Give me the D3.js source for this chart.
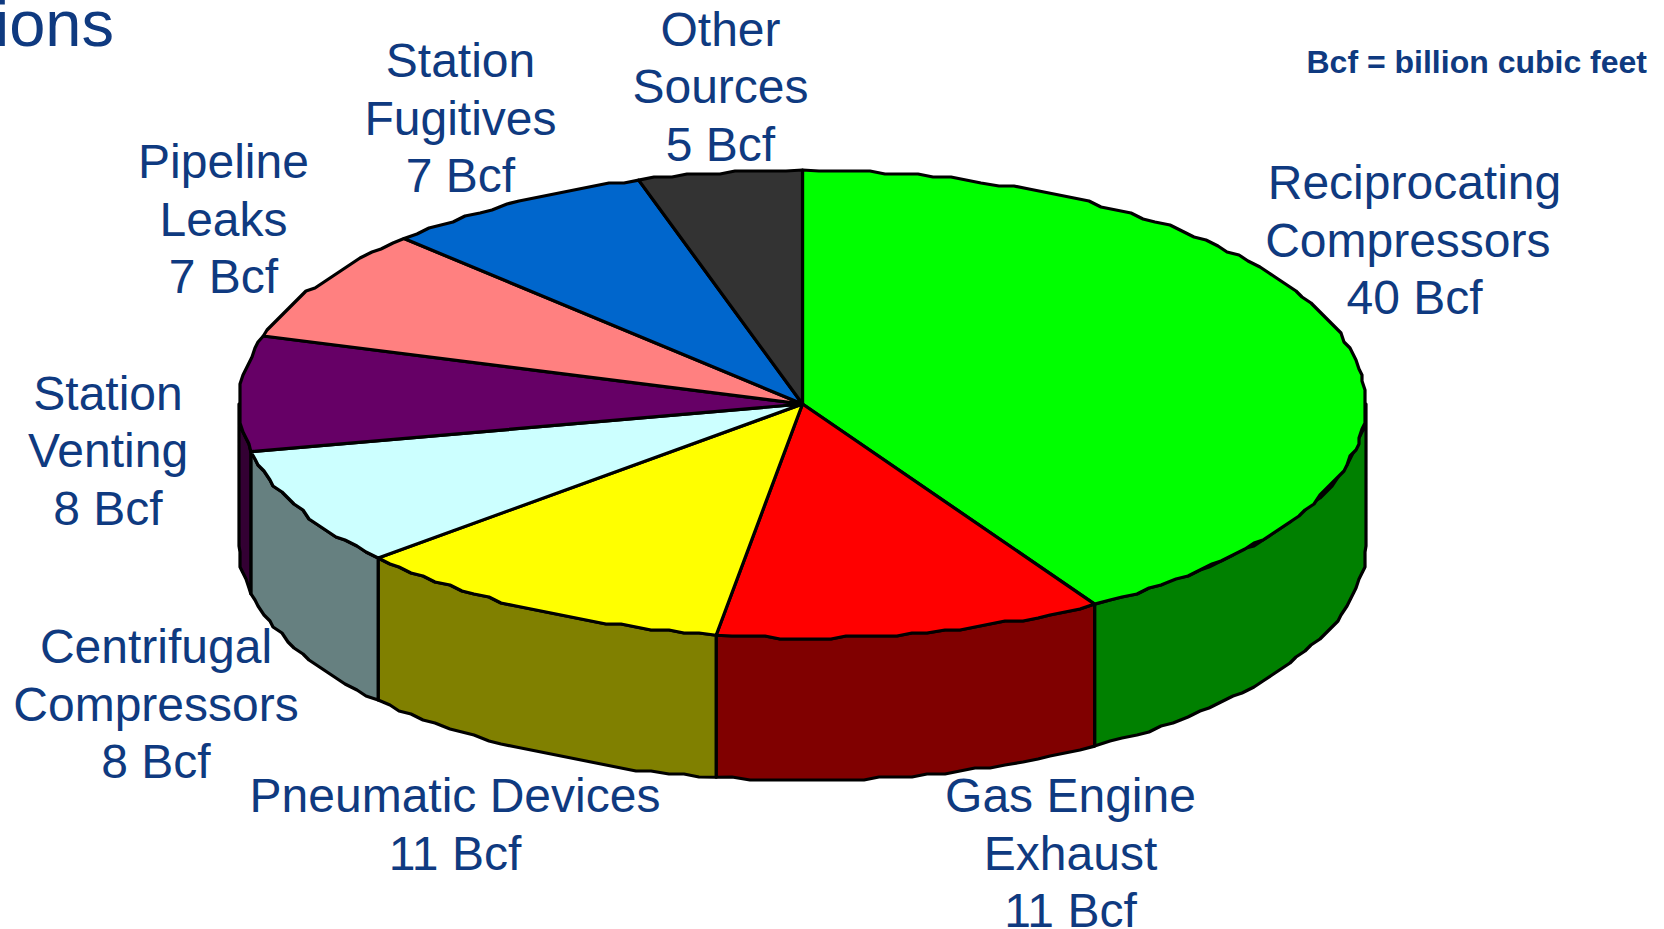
<!DOCTYPE html>
<html><head><meta charset="utf-8">
<script src="https://cdn.jsdelivr.net/npm/d3@7/dist/d3.min.js"></script>
<style>html,body{margin:0;padding:0;background:#fff;overflow:hidden}svg{display:block}text{font-family:"Liberation Sans",Arial,sans-serif;fill:#0f3a80}</style>
</head><body><svg id="c" width="1664" height="929"></svg>
<script>
const sources = ["Reciprocating Compressors","Gas Engine Exhaust","Pneumatic Devices","Centrifugal Compressors","Station Venting","Pipeline Leaks","Station Fugitives","Other Sources"];
const valuesBcf = [40.5,10.9,10.9,8.0,7.8,7.65,7.65,4.6];
const topColors = ["#00ff00","#ff0000","#ffff00","#ccffff","#660066","#ff8080","#0066cc","#333333"];
const wallColors = ["#008000","#800000","#808000","#668080","#330033","#804040","#003366","#1a1a1a"];
const labelLines = [["Reciprocating","Compressors\u00a0","40 Bcf"],["Gas Engine","Exhaust","11 Bcf"],["Pneumatic Devices","11 Bcf"],["Centrifugal","Compressors","8 Bcf"],["Station","Venting","8 Bcf"],["Pipeline","Leaks","7 Bcf"],["Station","Fugitives","7 Bcf"],["Other","Sources","5 Bcf"]];
const labelX = [1414.5,1070.5,455,156,108,223.5,460.5,720.5];
const labelY = [199,812,812,663,409.5,178,77,45.5];

const svg = d3.select("#c");
const cx=802.5, cy=404, rx=563.5, ry=234, depth=142, grid=3, stepDeg=1.7;
const x = d3.scaleLinear().domain([-1,1]).range([cx-rx,cx+rx]);
const y = d3.scaleLinear().domain([-1,1]).range([cy-ry,cy+ry]);
const pie = d3.pie().sort(null).value(d=>d);
const arcs = pie(valuesBcf);
const q = v => Math.round(v/grid)*grid;
const rim = (a,dy=0) => [x(Math.sin(a)), y(-Math.cos(a))+dy];
function rimPts(a0,a1,dy=0){
  const n=Math.max(1,Math.round((a1-a0)/(stepDeg*Math.PI/180))), p=[];
  for(let i=0;i<=n;i++){
    const a=a0+(a1-a0)*i/n, r=rim(a,dy);
    p.push(i===0||i===n? r : [q(r[0]),q(r[1])]);
  }
  return p;
}
const line=d3.line();
const g=svg.append("g").attr("stroke","#000").attr("stroke-width",3.2).attr("stroke-linejoin","round");
arcs.forEach((d,i)=>{
  const a0=Math.max(d.startAngle,Math.PI/2), a1=Math.min(d.endAngle,Math.PI*1.5);
  if(a1<=a0) return;
  const pts=rimPts(a0,a1).concat(rimPts(a0,a1,depth).reverse());
  g.append("path").attr("d",line(pts)+"Z").attr("fill",wallColors[i]);
});
arcs.forEach((d,i)=>{
  const pts=[[x(0),y(0)]].concat(rimPts(d.startAngle,d.endAngle));
  g.append("path").attr("d",line(pts)+"Z").attr("fill",topColors[i]);
});
const fs=48, lh=57.5;
sources.forEach((s,i)=>{
  const t=svg.append("text").attr("text-anchor","middle").attr("font-size",fs);
  labelLines[i].forEach((l,j)=>t.append("tspan").attr("x",labelX[i]).attr("y",labelY[i]+j*lh).text(l));
});
svg.append("text").attr("x",114).attr("y",45.5).attr("text-anchor","end").attr("font-size",65).text("ions");
svg.append("text").attr("x",1647).attr("y",72.5).attr("text-anchor","end").attr("font-size",32).attr("font-weight","bold").text("Bcf = billion cubic feet");
</script></body></html>
